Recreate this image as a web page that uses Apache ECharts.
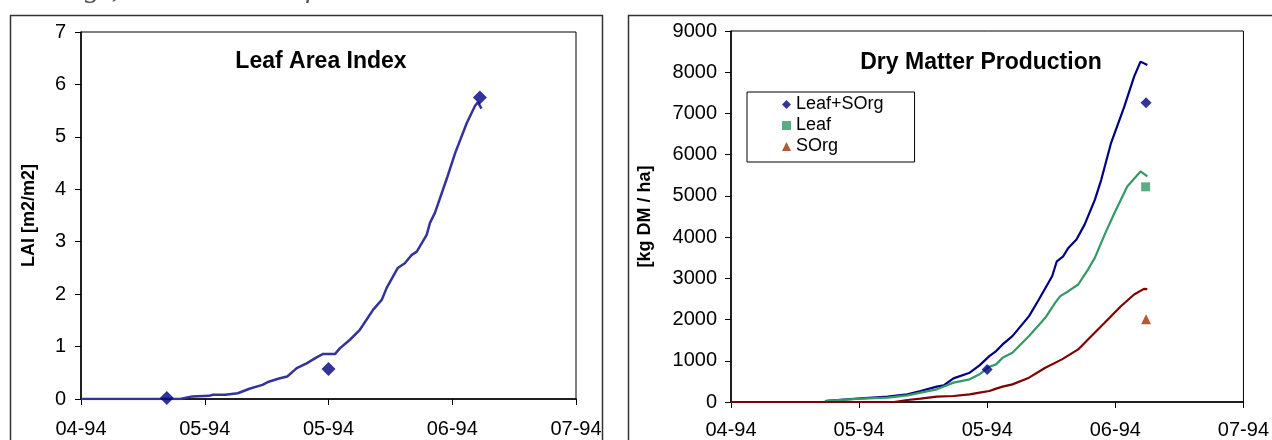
<!DOCTYPE html>
<html>
<head>
<meta charset="utf-8">
<script src="https://cdn.jsdelivr.net/npm/echarts@6/dist/echarts.min.js"></script>
<style>
html,body{margin:0;padding:0;background:#fff;}
#c{width:1272px;height:440px;}
</style>
</head>
<body>
<div id="c"></div>
<script>
// ---- tick labels (x axis: ticks every 30 days from 1 Apr 1994) ----
const xTickLabels = ["04-94", "05-94", "05-94", "06-94", "07-94"];

// ---- Leaf Area Index: simulated curve ----
const laiSimDays = [0, 24, 27, 31, 32, 35, 38, 41, 44, 45.5, 48, 50, 52.3, 54.7, 57, 58.7, 61.6, 62.8, 65.2, 67.6, 70.8, 72.9, 74.1, 76.8, 78.5, 80.2, 81.4, 83.8, 84.6, 85.8, 88.7, 90.7, 93.5, 95.5, 96.2, 97.1];
const laiSimVals = [0, 0, 0.05, 0.06, 0.08, 0.08, 0.11, 0.2, 0.27, 0.33, 0.39, 0.43, 0.59, 0.68, 0.79, 0.86, 0.86, 0.97, 1.13, 1.32, 1.7, 1.89, 2.12, 2.5, 2.59, 2.75, 2.81, 3.13, 3.36, 3.55, 4.21, 4.69, 5.26, 5.59, 5.66, 5.54];
// ---- Leaf Area Index: observations ----
const laiObsDays = [20.8, 60, 96.7];
const laiObsVals = [0.02, 0.57, 5.75];

// ---- Dry matter: simulated curves ----
const totSimDays = [0, 22, 22.5, 30.5, 36.7, 41.3, 44.4, 48.2, 49.8, 52.1, 55.9, 58.2, 60.5, 62.1, 63.6, 65.9, 69.8, 72.1, 75.2, 76.3, 77.8, 79, 80.9, 82.8, 85.2, 86.7, 89, 92.1, 94.4, 95.9, 97.5];
const totSimVals = [0, 0, 30, 90, 130, 186, 266, 372, 404, 574, 711, 888, 1114, 1235, 1397, 1599, 2083, 2487, 3051, 3414, 3535, 3738, 3940, 4303, 4903, 5390, 6281, 7167, 7893, 8257, 8177];

const leafSimDays = [0, 22, 22.5, 30.5, 36.7, 41.3, 44.4, 48.2, 52.1, 55.9, 58.2, 60.5, 62.1, 63.6, 65.9, 69.8, 73.6, 75.9, 77.1, 79, 81.3, 83.6, 85.2, 87.5, 89.8, 92.8, 95.9, 97.5];
const leafSimVals = [0, 0, 30, 82, 106, 162, 228, 307, 470, 550, 671, 857, 913, 1075, 1196, 1599, 2043, 2406, 2567, 2688, 2850, 3213, 3496, 4061, 4586, 5230, 5593, 5472];

const sorgSimDays = [0, 38.2, 41.3, 44.4, 48.2, 52.1, 55.9, 58.2, 60.5, 62.1, 63.6, 65.9, 69.8, 73.6, 77.5, 81.3, 83.6, 87.5, 91.3, 94.4, 96.7, 97.5];
const sorgSimVals = [0, 0, 48, 82, 130, 145, 186, 228, 266, 324, 373, 428, 590, 832, 1034, 1276, 1518, 1922, 2324, 2608, 2745, 2740];

// ---- Dry matter: observations ----
const totObsDays = [60, 97.2];
const totObsVals = [790, 7260];
const leafObsDays = [97.1];
const leafObsVals = [5220];
const sorgObsDays = [97.2];
const sorgObsVals = [2010];

function zip(a, b) { return a.map((d, i) => [d, b[i]]); }

const FONT = "'Liberation Sans', Arial, sans-serif";

function xAxisCfg(gridIndex, margin) {
  return {
    type: 'value', gridIndex: gridIndex, min: 0, max: 120, interval: 30,
    axisLine: { show: true, lineStyle: { color: '#000', width: 1.5 } },
    axisTick: { show: true, length: 6, lineStyle: { color: '#000', width: 1 } },
    splitLine: { show: false },
    axisLabel: {
      color: '#000', fontSize: 20, fontFamily: FONT, margin: margin,
      formatter: function (v) { return xTickLabels[Math.round(v / 30)]; }
    }
  };
}
function yAxisCfg(gridIndex, max, interval, name, nameGap, margin) {
  return {
    type: 'value', gridIndex: gridIndex, min: 0, max: max, interval: interval,
    name: name, nameLocation: 'middle', nameGap: nameGap, nameRotate: 90,
    nameTextStyle: { color: '#000', fontSize: 18, fontWeight: 'bold', fontFamily: FONT },
    axisLine: { show: true, lineStyle: { color: '#000', width: 1.5 } },
    axisTick: { show: true, length: 6, lineStyle: { color: '#000', width: 1 } },
    splitLine: { show: false },
    axisLabel: { color: '#000', fontSize: 20, fontFamily: FONT, margin: margin,
      formatter: function (v) { return String(v); } }
  };
}

const chart = echarts.init(document.getElementById('c'), null, { renderer: 'canvas' });
chart.setOption({
  animation: false,
  backgroundColor: '#fff',
  grid: [
    { left: 81, top: 32, width: 495, height: 367, show: true, borderColor: '#000', borderWidth: 1, backgroundColor: 'transparent' },
    { left: 731, top: 31, width: 521, height: 372, show: true, borderColor: '#000', borderWidth: 1, backgroundColor: 'transparent' }
  ],
  xAxis: [xAxisCfg(0, 20), xAxisCfg(1, 18)],
  yAxis: [
    yAxisCfg(0, 7, 1, 'LAI [m2/m2]', 43, 15),
    yAxisCfg(1, 9000, 1000, '[kg DM / ha]', 77, 14)
  ],
  legend: {
    show: true, left: 747, top: 92, orient: 'vertical',
    data: ['Leaf+SOrg', 'Leaf', 'SOrg'],
    itemWidth: 9, itemHeight: 9, itemGap: 2,
    padding: [3, 31, 6, 35],
    borderColor: '#000', borderWidth: 1, backgroundColor: '#fff',
    textStyle: { color: '#000', fontSize: 18, fontFamily: FONT, lineHeight: 19 }
  },
  graphic: [
    { type: 'rect', silent: true, z: -10, shape: { x: 10.5, y: 15.5, width: 592, height: 500 }, style: { fill: 'none', stroke: '#333', lineWidth: 1.5 } },
    { type: 'rect', silent: true, z: -10, shape: { x: 628.5, y: 15.5, width: 700, height: 500 }, style: { fill: 'none', stroke: '#333', lineWidth: 1.5 } },
    { type: 'text', silent: true, style: { text: 'Leaf Area Index', x: 321, y: 62, align: 'center', verticalAlign: 'middle', font: "bold 23px 'Liberation Sans', Arial, sans-serif", fill: '#000' } },
    { type: 'text', silent: true, style: { text: 'Dry Matter Production', x: 981, y: 63, align: 'center', verticalAlign: 'middle', font: "bold 23px 'Liberation Sans', Arial, sans-serif", fill: '#000' } },
    { type: 'text', silent: true, style: { text: 'seedlings, which was not feasible in earlier versions.', x: 0, y: 4, align: 'left', verticalAlign: 'bottom', font: "italic 30px 'Liberation Serif', 'Times New Roman', serif", fill: '#555' } }
  ],
  series: [
    { name: 'LAI sim', type: 'line', xAxisIndex: 0, yAxisIndex: 0, showSymbol: false, symbol: 'none',
      data: zip(laiSimDays, laiSimVals), lineStyle: { color: '#333399', width: 2.5 }, z: 2 },
    { name: 'LAI obs', type: 'scatter', xAxisIndex: 0, yAxisIndex: 0, symbol: 'diamond', symbolSize: 14,
      data: zip(laiObsDays, laiObsVals), itemStyle: { color: '#000080' }, z: 3 },

    { name: 'Leaf+SOrg sim', type: 'line', xAxisIndex: 1, yAxisIndex: 1, showSymbol: false, symbol: 'none',
      data: zip(totSimDays, totSimVals), lineStyle: { color: '#000080', width: 2.2 }, z: 2 },
    { name: 'Leaf sim', type: 'line', xAxisIndex: 1, yAxisIndex: 1, showSymbol: false, symbol: 'none',
      data: zip(leafSimDays, leafSimVals), lineStyle: { color: '#339966', width: 2.2 }, z: 2 },
    { name: 'SOrg sim', type: 'line', xAxisIndex: 1, yAxisIndex: 1, showSymbol: false, symbol: 'none',
      data: zip(sorgSimDays, sorgSimVals), lineStyle: { color: '#800000', width: 2.2 }, z: 2 },

    { name: 'Leaf+SOrg', type: 'scatter', xAxisIndex: 1, yAxisIndex: 1, symbol: 'diamond', symbolSize: 11,
      data: zip(totObsDays, totObsVals), itemStyle: { color: '#000080' }, z: 3 },
    { name: 'Leaf', type: 'scatter', xAxisIndex: 1, yAxisIndex: 1, symbol: 'rect', symbolSize: 9,
      data: zip(leafObsDays, leafObsVals), itemStyle: { color: '#339966' }, z: 3 },
    { name: 'SOrg', type: 'scatter', xAxisIndex: 1, yAxisIndex: 1, symbol: 'triangle', symbolSize: 10,
      data: zip(sorgObsDays, sorgObsVals), itemStyle: { color: '#993300' }, z: 3 }
  ]
});
</script>
</body>
</html>
